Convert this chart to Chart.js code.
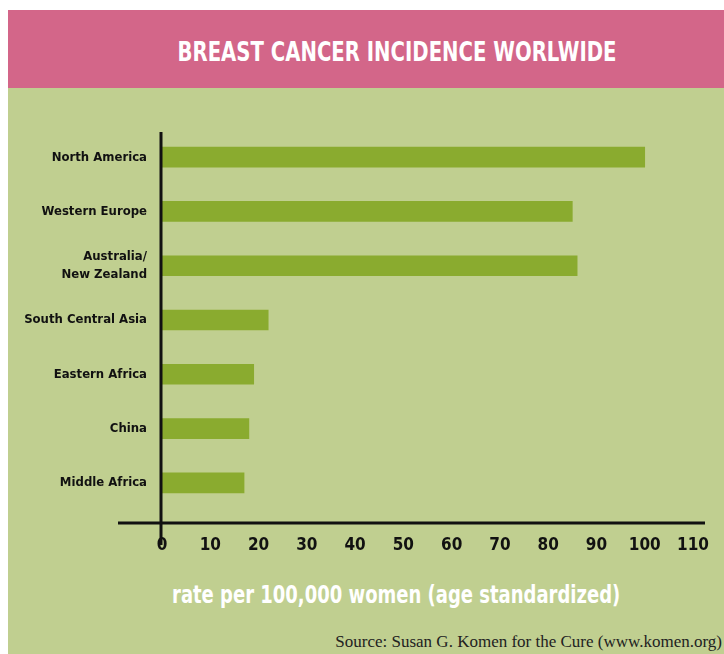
<!DOCTYPE html>
<html>
<head>
<meta charset="utf-8">
<script src="https://cdn.jsdelivr.net/npm/chart.js@4"></script>
<style>
  body { margin: 0; width: 724px; height: 654px; background: #fff; position: relative; overflow: hidden; }
  .narrow { font-family: 'Liberation Sans Narrow', 'DejaVu Sans Condensed', sans-serif; font-weight: bold; white-space: nowrap; }
  #header { position: absolute; left: 8px; top: 10px; width: 716px; height: 78px; background: #D36689; }
  #header h1 { margin: 0; position: absolute; left: 389px; top: 27px; transform: translateX(-50%) scaleX(0.81); color: #fff; font-size: 27px; line-height: 30px; }
  #panel { position: absolute; left: 8px; top: 88px; width: 716px; height: 566px; background: #C0CF90; }
  #chart { position: absolute; left: 0; top: 88px; }
  #xtitle { position: absolute; left: 172px; top: 580px; transform: scaleX(0.8); transform-origin: left center; color: #fff; font-size: 25px; line-height: 30px; }
  #source { position: absolute; right: 2px; top: 632px; color: #222; font-family: 'Liberation Serif', serif; font-size: 17px; line-height: 20px; white-space: nowrap; }
</style>
</head>
<body>
<div id="header"><h1 class="narrow">BREAST CANCER INCIDENCE WORLWIDE</h1></div>
<div id="panel"></div>
<canvas id="chart" width="724" height="480"></canvas>
<div id="xtitle" class="narrow">rate per 100,000 women (age standardized)</div>
<div id="source">Source: Susan G. Komen for the Cure (www.komen.org)</div>
<script>
const regions = ['North America', 'Western Europe', ['Australia/', 'New Zealand'], 'South Central Asia', 'Eastern Africa', 'China', 'Middle Africa'];
const incidence = [100, 85, 86, 22, 19, 18, 17];
const xTicks = [0, 10, 20, 30, 40, 50, 60, 70, 80, 90, 100, 110];

const FONT = "'Liberation Sans Narrow', 'DejaVu Sans Condensed', sans-serif";

// black axis lines, drawn past the plot area like the original
const axisLines = {
  id: 'axisLines',
  afterDraw(chart) {
    const { ctx, chartArea } = chart;
    const x0 = chart.scales.x.getPixelForValue(0) - 1;
    ctx.save();
    ctx.strokeStyle = '#111';
    ctx.lineWidth = 3;
    ctx.beginPath();
    ctx.moveTo(chartArea.left - 44, chartArea.bottom + 13);
    ctx.lineTo(chartArea.right + 12, chartArea.bottom + 13);
    ctx.moveTo(x0, chartArea.top + 2);
    ctx.lineTo(x0, chartArea.bottom + 35);
    ctx.stroke();
    ctx.restore();
  }
};

new Chart(document.getElementById('chart'), {
  type: 'bar',
  data: {
    labels: regions,
    datasets: [{ data: incidence, backgroundColor: '#8AAB2F', barThickness: 20 }]
  },
  options: {
    indexAxis: 'y',
    responsive: false,
    animation: false,
    devicePixelRatio: 1,
    layout: { padding: { top: 42, right: 31, bottom: 0, left: 0 } },
    plugins: { legend: { display: false }, tooltip: { enabled: false } },
    scales: {
      x: {
        min: 0, max: 110,
        afterBuildTicks: s => { s.ticks = xTicks.map(v => ({ value: v })); },
        afterFit: s => { s.height = 58; s.paddingLeft = 0; s.paddingRight = 0; },
        grid: { display: false, drawTicks: false },
        border: { display: false },
        ticks: { color: '#111', padding: 25, font: { family: FONT, size: 17, weight: 'bold' } }
      },
      y: {
        afterFit: s => { s.width = 162; },
        grid: { display: false, drawTicks: false },
        border: { display: false },
        ticks: { color: '#111', padding: 15, font: { family: FONT, size: 13, weight: 'bold', lineHeight: 1.35 } }
      }
    }
  },
  plugins: [axisLines]
});
</script>
</body>
</html>
